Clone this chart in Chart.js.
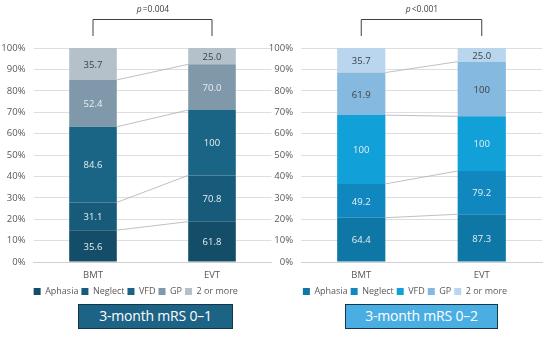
<!DOCTYPE html>
<html>
<head>
<meta charset="utf-8">
<script src="https://cdn.jsdelivr.net/npm/chart.js@4.4.1/dist/chart.umd.min.js"></script>
<style>
  body { margin: 0; background: #fff; }
  #wrap { position: relative; width: 550px; height: 337px; overflow: hidden; font-family: "Open Sans", sans-serif; }
  .cv { position: absolute; top: 0; }
  .box { position: absolute; top: 304px; height: 25px; box-sizing: border-box; border: 1.5px solid #12374a;
         color: #fff; font-size: 14px; line-height: 22px; text-align: center; letter-spacing: -0.2px; }
</style>
</head>
<body>
<div id="wrap">
  <div class="cv" style="left:0;width:275px;height:306px"><canvas id="c1"></canvas></div>
  <div class="cv" style="left:268px;width:282px;height:306px"><canvas id="c2"></canvas></div>
  <div class="box" style="left:78px;width:155px;background:#1d6385">3-month mRS 0&#8211;1</div>
  <div class="box" style="left:345px;width:153px;background:#4aaee2">3-month mRS 0&#8211;2</div>
</div>
<script>
var categories = ['BMT', 'EVT'];
var seriesNames = ['Aphasia', 'Neglect', 'VFD', 'GP', '2 or more'];
var yTicks = [0, 10, 20, 30, 40, 50, 60, 70, 80, 90, 100];

// 3-month mRS 0-1, per series [BMT, EVT]
var mrs01Aphasia = [35.6, 61.8];
var mrs01Neglect = [31.1, 70.8];
var mrs01VFD = [84.6, 100];
var mrs01GP = [52.4, 70.0];
var mrs01Two = [35.7, 25.0];
var pValue01 = '=0.004';

// 3-month mRS 0-2
var mrs02Aphasia = [64.4, 87.3];
var mrs02Neglect = [49.2, 79.2];
var mrs02VFD = [100, 100];
var mrs02GP = [61.9, 100];
var mrs02Two = [35.7, 25.0];
var pValue02 = '<0.001';

var colors01 = ['#144d68', '#175a79', '#1a6485', '#8099aa', '#b4c1ca'];
var colors02 = ['#0f77a6', '#1088bf', '#12a0d8', '#85b9e0', '#b9d6ee'];
var light = '#e8eef2', dark = '#404040';
var labelColors01 = [[light, light], [light, light], [light, light], [light, light], [dark, dark]];
var labelColors02 = [[light, light], [light, light], [light, light], [dark, dark], [dark, dark]];

function fmt(v) { return v === 100 ? '100' : v.toFixed(1); }

var overlay = {
  id: 'overlay',
  afterDatasetsDraw: function(chart) {
    var ctx = chart.ctx;
    var n = chart.data.datasets.length;
    ctx.save();
    // series lines
    ctx.strokeStyle = '#b0b0b0';
    ctx.lineWidth = 0.8;
    for (var i = 0; i < n - 1; i++) {
      var m = chart.getDatasetMeta(i).data;
      ctx.beginPath();
      ctx.moveTo(m[0].x + m[0].width / 2, m[0].y);
      ctx.lineTo(m[1].x - m[1].width / 2, m[1].y);
      ctx.stroke();
    }
    // value labels
    ctx.font = '9.5px "Open Sans"';
    ctx.textAlign = 'center';
    ctx.textBaseline = 'middle';
    for (var d = 0; d < n; d++) {
      var ds = chart.data.datasets[d];
      chart.getDatasetMeta(d).data.forEach(function(el, j) {
        ctx.fillStyle = ds.labelColors[j];
        ctx.fillText(fmt(ds.raw[j]), el.x, (el.y + el.base) / 2 + 1);
      });
    }
    // bracket with p value
    var x = chart.scales.x;
    var x0 = x.getPixelForValue(0), x1 = x.getPixelForValue(1);
    ctx.strokeStyle = '#404040';
    ctx.lineWidth = 1;
    ctx.beginPath();
    ctx.moveTo(x0, 36); ctx.lineTo(x0, 19.5); ctx.lineTo(x1, 19.5); ctx.lineTo(x1, 36);
    ctx.stroke();
    var pTxt = chart.options.plugins.overlay.p;
    ctx.fillStyle = '#404040';
    ctx.font = 'italic 8.5px "Open Sans"';
    var w1 = ctx.measureText('p').width;
    ctx.font = '8.5px "Open Sans"';
    var w2 = ctx.measureText(pTxt).width;
    var sx = (x0 + x1) / 2 - (w1 + w2) / 2;
    ctx.textAlign = 'left';
    ctx.font = 'italic 8.5px "Open Sans"';
    ctx.fillText('p', sx, 10);
    ctx.font = '8.5px "Open Sans"';
    ctx.fillText(pTxt, sx + w1 + 1, 10);
    ctx.restore();
  }
};

function makeChart(id, series, colors, labelColors, p, yWidth, padRight) {
  var sums = categories.map(function(c, j) {
    return series.reduce(function(a, s) { return a + s[j]; }, 0);
  });
  var datasets = series.map(function(s, i) {
    return {
      label: seriesNames[i],
      data: s.map(function(v, j) { return v / sums[j] * 100; }),
      raw: s,
      labelColors: labelColors[i],
      backgroundColor: colors[i],
      borderWidth: 0,
      barPercentage: 0.4,
      categoryPercentage: 1
    };
  });
  return new Chart(document.getElementById(id), {
    type: 'bar',
    data: { labels: categories, datasets: datasets },
    plugins: [overlay],
    options: {
      responsive: true,
      maintainAspectRatio: false,
      animation: false,
      layout: { padding: { top: 48, right: padRight, left: 0, bottom: 0 } },
      scales: {
        x: {
          stacked: true,
          afterFit: function(s) { s.height = 22; },
          grid: { display: false, drawTicks: false },
          border: { color: '#d0d0d0' },
          ticks: { color: '#595959', font: { family: 'Open Sans', size: 9.5 }, padding: 8 }
        },
        y: {
          stacked: true,
          min: 0, max: 100,
          afterFit: function(s) { s.width = yWidth; },
          afterBuildTicks: function(s) { s.ticks = yTicks.map(function(v) { return { value: v }; }); },
          grid: { color: '#dedede', drawTicks: false },
          border: { display: false },
          ticks: {
            color: '#595959', padding: 8,
            font: { family: 'Open Sans', size: 9.5 },
            callback: function(v) { return v + '%'; }
          }
        }
      },
      plugins: {
        overlay: { p: p },
        tooltip: { enabled: false },
        legend: {
          position: 'bottom',
          labels: {
            boxWidth: 7, boxHeight: 7, padding: 3,
            color: '#595959',
            font: { family: 'Open Sans', size: 9 }
          }
        }
      }
    }
  });
}

makeChart('c1', [mrs01Aphasia, mrs01Neglect, mrs01VFD, mrs01GP, mrs01Two], colors01, labelColors01, pValue01, 33.5, 3.5);
makeChart('c2', [mrs02Aphasia, mrs02Neglect, mrs02VFD, mrs02GP, mrs02Two], colors02, labelColors02, pValue02, 33, 8);
</script>
</body>
</html>
